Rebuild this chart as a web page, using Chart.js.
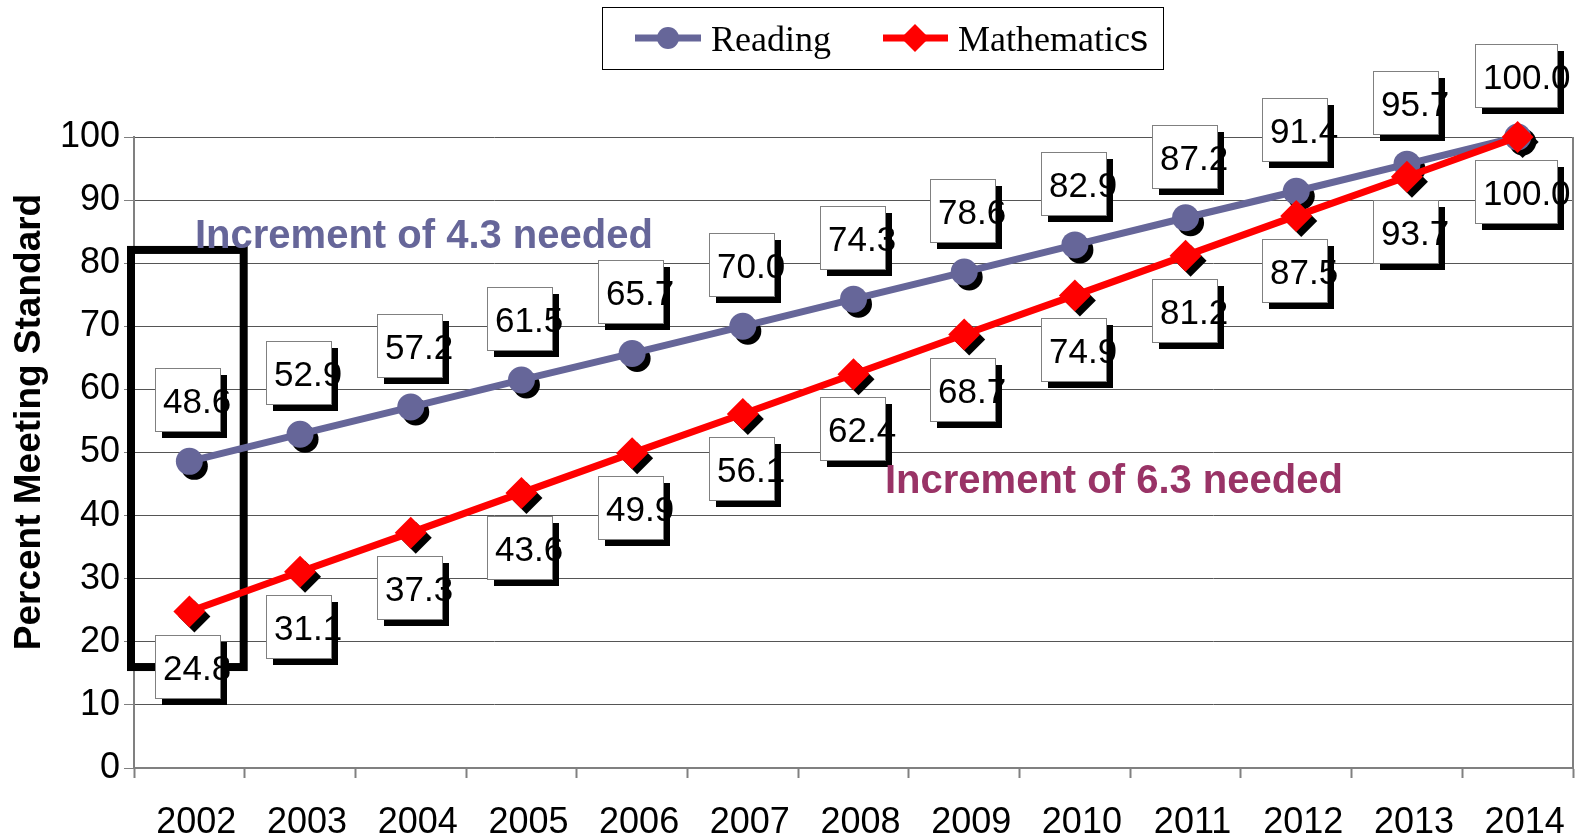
<!DOCTYPE html>
<html>
<head>
<meta charset="utf-8">
<script src="https://cdn.jsdelivr.net/npm/chart.js@4"></script>
<style>
    html, body { margin: 0; padding: 0; background: #fff; overflow: hidden; }
    #wrap { width: 1581px; height: 838px; position: relative; }
</style>
</head>
<body>
<div id="wrap"><canvas id="trendChart"></canvas></div>
<script>
// Chart data
const years = ['2002', '2003', '2004', '2005', '2006', '2007', '2008', '2009', '2010', '2011', '2012', '2013', '2014'];
const reading = [48.6, 52.9, 57.2, 61.5, 65.7, 70.0, 74.3, 78.6, 82.9, 87.2, 91.4, 95.7, 100.0];
const mathematics = [24.8, 31.1, 37.3, 43.6, 49.9, 56.1, 62.4, 68.7, 74.9, 81.2, 87.5, 93.7, 100.0];
const seriesNames = ['Reading', 'Mathematics'];
const notes = ['Increment of 4.3 needed', 'Increment of 6.3 needed'];
const yAxisTitle = 'Percent Meeting Standard';
const bracketRange = [82.1, 16];   // value range covered by the 2002 bracket

const readingColor = '#666699';
const mathColor = '#ff0000';
const sans = '"Liberation Sans", Arial, sans-serif';
const serif = '"Liberation Serif", "Times New Roman", serif';

// Bracket around the 2002 starting values
const bracketPlugin = {
    id: 'bracket',
    beforeDatasetsDraw(chart) {
        const { ctx, chartArea, scales } = chart;
        const catW = (chartArea.right - chartArea.left) / years.length;
        const left = chartArea.left - 3;
        const right = chartArea.left + catW - 1;
        const top = scales.y.getPixelForValue(bracketRange[0]);
        const bottom = scales.y.getPixelForValue(bracketRange[1]);
        ctx.save();
        // right border of plot
        ctx.strokeStyle = '#808080';
        ctx.lineWidth = 2;
        ctx.beginPath();
        ctx.moveTo(chartArea.right, chartArea.top);
        ctx.lineTo(chartArea.right, chartArea.bottom);
        ctx.stroke();
        ctx.strokeStyle = '#000';
        ctx.lineWidth = 8;
        ctx.strokeRect(left, top, right - left, bottom - top);
        ctx.restore();
    }
};

// Black drop shadows under the markers
const markerShadowPlugin = {
    id: 'markerShadow',
    beforeDatasetsDraw(chart) {
        const ctx = chart.ctx;
        ctx.save();
        ctx.fillStyle = '#000';
        chart.data.datasets.forEach((ds, i) => {
            const meta = chart.getDatasetMeta(i);
            meta.data.forEach(pt => {
                const x = pt.x + 5, y = pt.y + 5;
                const r = ds.pointRadius;
                ctx.beginPath();
                if (ds.pointStyle === 'rectRot') {
                    ctx.moveTo(x - r, y);
                    ctx.lineTo(x, y - r);
                    ctx.lineTo(x + r, y);
                    ctx.lineTo(x, y + r);
                    ctx.closePath();
                } else {
                    ctx.arc(x, y, r, 0, Math.PI * 2);
                }
                ctx.fill();
            });
        });
        ctx.restore();
    }
};

// Boxed value labels with shadow
const valueLabelPlugin = {
    id: 'valueLabels',
    afterDatasetsDraw(chart) {
        const ctx = chart.ctx;
        ctx.save();
        ctx.font = '35px ' + sans;
        ctx.textBaseline = 'alphabetic';
        ctx.textAlign = 'left';
        chart.data.datasets.forEach((ds, i) => {
            const meta = chart.getDatasetMeta(i);
            meta.data.forEach((pt, j) => {
                const text = ds.data[j].toFixed(1);
                const tw = ctx.measureText(text).width;
                const w = Math.round(tw * 0.88 + 5);
                const h = 63;
                const left = Math.round(pt.x - 1.5 - w / 2);
                const top = Math.round(i === 0 ? pt.y - 93 : pt.y + 23);
                ctx.fillStyle = '#000';
                ctx.fillRect(left + 7, top + 7, w, h);
                ctx.fillStyle = '#fff';
                ctx.fillRect(left, top, w, h);
                ctx.strokeStyle = '#808080';
                ctx.lineWidth = 1;
                ctx.strokeRect(left + 0.5, top + 0.5, w, h);
                ctx.fillStyle = '#000';
                ctx.fillText(text, left + 8, top + 45);
            });
        });
        ctx.restore();
    }
};

// Notes, legend and axis title
const decorPlugin = {
    id: 'decor',
    afterDraw(chart) {
        const ctx = chart.ctx;
        ctx.save();

        // notes
        ctx.font = 'bold 40px ' + sans;
        ctx.textAlign = 'left';
        ctx.textBaseline = 'alphabetic';
        ctx.fillStyle = readingColor;
        ctx.fillText(notes[0], 195, 248);
        ctx.fillStyle = '#993366';
        ctx.fillText(notes[1], 885, 493);

        // y axis title
        ctx.save();
        ctx.translate(30, 422);
        ctx.rotate(-Math.PI / 2);
        ctx.font = 'bold 37px ' + sans;
        ctx.textAlign = 'center';
        ctx.textBaseline = 'middle';
        ctx.fillStyle = '#000';
        ctx.fillText(yAxisTitle, 0, 0);
        ctx.restore();

        // legend
        ctx.fillStyle = '#fff';
        ctx.fillRect(602, 7, 561, 62);
        ctx.strokeStyle = '#000';
        ctx.lineWidth = 1;
        ctx.strokeRect(602.5, 7.5, 561, 62);

        ctx.lineWidth = 7;
        ctx.strokeStyle = readingColor;
        ctx.beginPath();
        ctx.moveTo(635, 38);
        ctx.lineTo(701, 38);
        ctx.stroke();
        ctx.fillStyle = readingColor;
        ctx.beginPath();
        ctx.arc(668, 38, 11, 0, Math.PI * 2);
        ctx.fill();

        ctx.strokeStyle = mathColor;
        ctx.beginPath();
        ctx.moveTo(883, 38);
        ctx.lineTo(948, 38);
        ctx.stroke();
        ctx.fillStyle = mathColor;
        ctx.beginPath();
        ctx.moveTo(915 - 14, 38);
        ctx.lineTo(915, 38 - 14);
        ctx.lineTo(915 + 14, 38);
        ctx.lineTo(915, 38 + 14);
        ctx.closePath();
        ctx.fill();

        ctx.fillStyle = '#000';
        ctx.textBaseline = 'alphabetic';
        ctx.font = '36px ' + serif;
        ctx.fillText(seriesNames[0], 711, 51);
        const head = seriesNames[1].slice(0, -1);
        ctx.fillText(head, 958, 51);
        const hw = ctx.measureText(head).width;
        ctx.font = '36px ' + sans;
        ctx.fillText(seriesNames[1].slice(-1), 958 + hw, 51);

        ctx.restore();
    }
};

const ctx = document.getElementById('trendChart');

const trendChart = new Chart(ctx, {
    type: 'line',
    data: {
        labels: years,
        datasets: [
            {
                label: seriesNames[0],
                data: reading,
                borderColor: readingColor,
                backgroundColor: readingColor,
                borderWidth: 7,
                pointStyle: 'circle',
                pointRadius: 13.5,
                pointBorderWidth: 0,
                tension: 0,
                clip: false,
                order: 2
            },
            {
                label: seriesNames[1],
                data: mathematics,
                borderColor: mathColor,
                backgroundColor: mathColor,
                borderWidth: 7,
                pointStyle: 'rectRot',
                pointRadius: 16,
                pointBorderWidth: 0,
                tension: 0,
                clip: false,
                order: 1
            }
        ]
    },
    options: {
        responsive: true,
        maintainAspectRatio: false,
        animation: false,
        events: [],
        layout: {
            autoPadding: false,
            padding: { top: 137, right: 8, left: 0, bottom: 0 }
        },
        plugins: {
            legend: { display: false },
            tooltip: { enabled: false }
        },
        scales: {
            x: {
                offset: true,
                afterFit: function(scale) {
                    scale.height = 70;
                    scale.paddingLeft = 0;
                    scale.paddingRight = 0;
                },
                grid: {
                    offset: true,
                    drawOnChartArea: false,
                    color: '#808080',
                    tickLength: 10,
                    tickWidth: 2
                },
                border: { color: '#808080', width: 2 },
                ticks: {
                    color: '#000',
                    font: { family: sans, size: 36 },
                    padding: 23,
                    labelOffset: 7,
                    maxRotation: 0,
                    autoSkip: false
                }
            },
            y: {
                min: 0,
                max: 100,
                afterFit: function(scale) {
                    scale.width = 134;
                    scale.paddingTop = 0;
                    scale.paddingBottom = 0;
                },
                grid: {
                    color: '#555',
                    lineWidth: 1,
                    tickLength: 10,
                    tickColor: '#808080'
                },
                border: { color: '#808080', width: 2 },
                ticks: {
                    stepSize: 10,
                    color: '#000',
                    font: { family: sans, size: 36 },
                    padding: 4
                }
            }
        }
    },
    plugins: [bracketPlugin, markerShadowPlugin, valueLabelPlugin, decorPlugin]
});
</script>
</body>
</html>
